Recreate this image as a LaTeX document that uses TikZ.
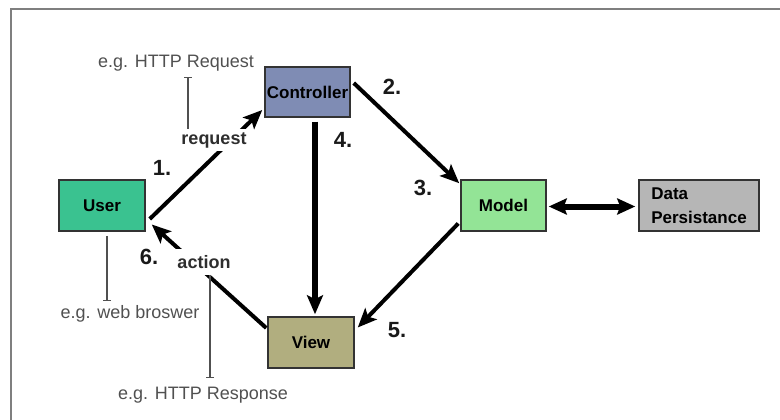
\documentclass[tikz,border=0pt]{standalone}
\usepackage{fontspec}
\setmainfont{Liberation Sans}
\usepackage{xcolor}
\usepackage{tikz}
\usetikzlibrary{arrows.meta}
\definecolor{userbg}{HTML}{3AC290}
\definecolor{ctrlbg}{HTML}{7F8CB4}
\definecolor{modelbg}{HTML}{93E496}
\definecolor{databg}{HTML}{B6B6B6}
\definecolor{viewbg}{HTML}{B1AE7F}
\definecolor{boxline}{HTML}{333333}
\definecolor{framegray}{HTML}{7F7F7F}
\definecolor{notegray}{HTML}{505050}
\definecolor{tagtext}{HTML}{2E2E2E}

\tikzset{
  box/.style={draw=boxline, line width=1.5pt, minimum width=86pt, minimum height=51pt,
    inner sep=0pt, font=\fontsize{17}{24}\selectfont\bfseries},
  flow/.style={line width=4pt, -{Stealth[length=19pt,width=16pt,inset=4pt]}},
  num/.style={font=\fontsize{22}{24}\selectfont\bfseries, text=black!90},
  tag/.style={fill=white, inner sep=3pt, text=tagtext, font=\fontsize{18}{20}\selectfont\bfseries},
  note/.style={text=notegray, font=\fontsize{18}{20}\selectfont},
  noteline/.style={draw=notegray, line width=1.2pt}
}

\begin{document}
\begin{tikzpicture}[x=1pt, y=-1pt]
  \useasboundingbox (0,0) rectangle (780,420);

  % outer frame (only top and left edge visible)
  \draw[framegray, line width=2pt] (11,420) -- (11,9) -- (780,9);

  % MVC boxes
  \node[box, fill=userbg]  (user)  at (102,205.5) {User};
  \node[box, fill=ctrlbg, minimum width=85pt, minimum height=50pt] (ctrl) at (307.5,92) {Controller};
  \node[box, fill=modelbg, minimum width=85pt] (model) at (503.5,205.5) {Model};
  \node[box, fill=databg, minimum width=120pt, align=left] (data) at (699,205.5) {Data\\Persistance};
  \node[box, fill=viewbg]  (view)  at (311,342.5) {View};

  % numbered flow
  \draw[flow] ([shift={(4,13.5)}]user.east) -- ([shift={(-2,18)}]ctrl.west);
  \draw[flow] ([shift={(3,-9)}]ctrl.east) -- ([shift={(-1,4)}]model.north west);
  \draw[flow, line width=6pt] ([shift={(7.5,4)}]ctrl.south) -- ([shift={(4,-2)}]view.north);
  \draw[flow] ([shift={(-2,18)}]model.west) -- ([shift={(3,-15)}]view.east);
  \draw[flow] ([shift={(-1,-14.5)}]view.west) -- ([shift={(6,19)}]user.east);
  \draw[line width=6pt, {Stealth[length=18pt,width=16pt,inset=3pt]}-{Stealth[length=18pt,width=16pt,inset=3pt]}]
    ([shift={(2,1)}]model.east) -- ([shift={(-3,1)}]data.west);

  % labels on the flow lines
  \node[tag] (request) at (214,140) {request};
  \node[tag, inner ysep=6pt] (action) at (204,262) {action};

  \node[num] (n1) at (162,168) {1.};
  \node[num] (n2) at (392,87) {2.};
  \node[num] (n3) at (423,188) {3.};
  \node[num] (n4) at (343,140) {4.};
  \node[num] (n5) at (397,330) {5.};
  \node[num] (n6) at (149,257) {6.};

  % notes
  \node[note] (reqnote)  at (176,63)  {e.g. HTTP Request};
  \node[note] (usernote) at (130,314) {e.g. web broswer};
  \node[note] (respnote) at (203,395) {e.g. HTTP Response};

  \draw[noteline, {Bar[width=8pt]}-] (188,77) -- (request.north -| 188,0);
  \draw[noteline, -{Bar[width=8pt]}] (user.south -| 107,0) ++(0,4) -- (107,301);
  \draw[noteline, -{Bar[width=8pt]}] (action.south -| 210,0) -- (210,378);
\end{tikzpicture}
\end{document}
